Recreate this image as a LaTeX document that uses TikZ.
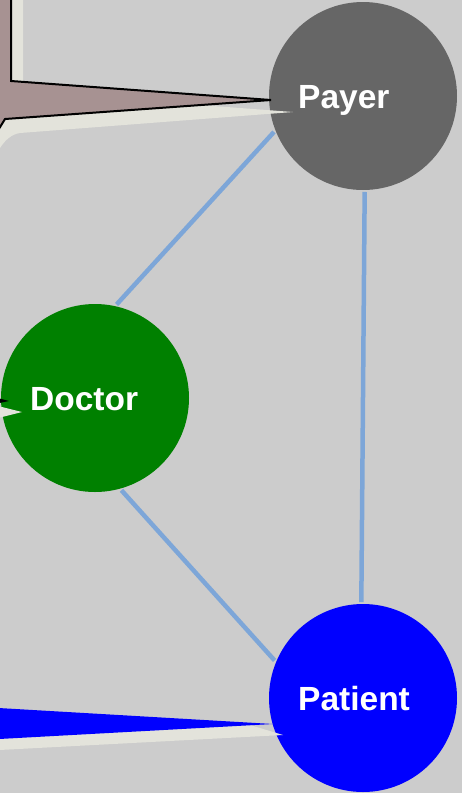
\documentclass[tikz,border=0pt]{standalone}
\usepackage{fontspec}
\setmainfont{Liberation Sans}
\definecolor{canvas}{RGB}{204,204,204}
\definecolor{payergray}{RGB}{102,102,102}
\definecolor{doctorgreen}{RGB}{0,128,0}
\definecolor{patientblue}{RGB}{0,0,255}
\definecolor{linkblue}{RGB}{125,166,216}
\definecolor{calloutbrown}{RGB}{167,146,146}
\definecolor{shadowbeige}{RGB}{227,227,219}
\begin{document}
\begin{tikzpicture}
  [x=1pt, y=-1pt,
   role/.style={circle, inner sep=0pt, outer sep=2pt, minimum size=188pt},
   rolelabel/.style={anchor=base west, inner sep=0pt, text=white,
                     font=\fontsize{33.5}{40}\selectfont\bfseries},
   link/.style={draw=linkblue, line width=4.5pt},
   shadow/.style={fill=shadowbeige},
   pointer/.style={draw=black, line width=2pt, fill=calloutbrown}]
  \useasboundingbox (0,0) rectangle (462,793);
  \fill[canvas] (0,0) rectangle (462,793);
  \clip (0,0) rectangle (462,793);

  \node[role, fill=payergray] (payer) at (363,96) {};
  \node[role, fill=doctorgreen] (doctor) at (95,398) {};
  \node[role, fill=patientblue] (patient) at (363,698) {};

  \draw[link] (payer.202) -- (doctor.77);
  \draw[link] (doctor.-74) -- (patient.157);
  \draw[link] (payer.-89) -- (patient.91);

  % callout pointing at the payer
  \fill[shadow] (23,-10) -- (23,95) -- (200,105) -- (293,112) -- (20,133)
    .. controls (12,134) and (5,140) .. (0,148) -- (-10,165) -- (-20,-10) -- cycle;
  \draw[pointer] (11,-10) -- (11,81) -- (271,100) -- (5,119) -- (-3,132)
    -- (-20,140) -- (-20,-10) -- cycle;

  % callout pointing at the doctor
  \fill[shadow] (-10,404) -- (22,412) -- (-10,420) -- cycle;
  \fill[black] (-10,396) -- (9,401) -- (-10,405) -- cycle;

  % callout pointing at the patient
  \fill[shadow] (-10,738) -- (250,725) -- (283,735) -- (-10,750.5) -- cycle;
  \fill[patientblue] (-10,707.5) -- (273,724) -- (-10,739.5) -- cycle;

  \node[rolelabel] (payerlabel) at ([xshift=-65pt,yshift=-12.5pt]payer.center) {Payer};
  \node[rolelabel] (doctorlabel) at ([xshift=-65pt,yshift=-12.5pt]doctor.center) {Doctor};
  \node[rolelabel] (patientlabel) at ([xshift=-65pt,yshift=-12.5pt]patient.center) {Patient};
\end{tikzpicture}
\end{document}
